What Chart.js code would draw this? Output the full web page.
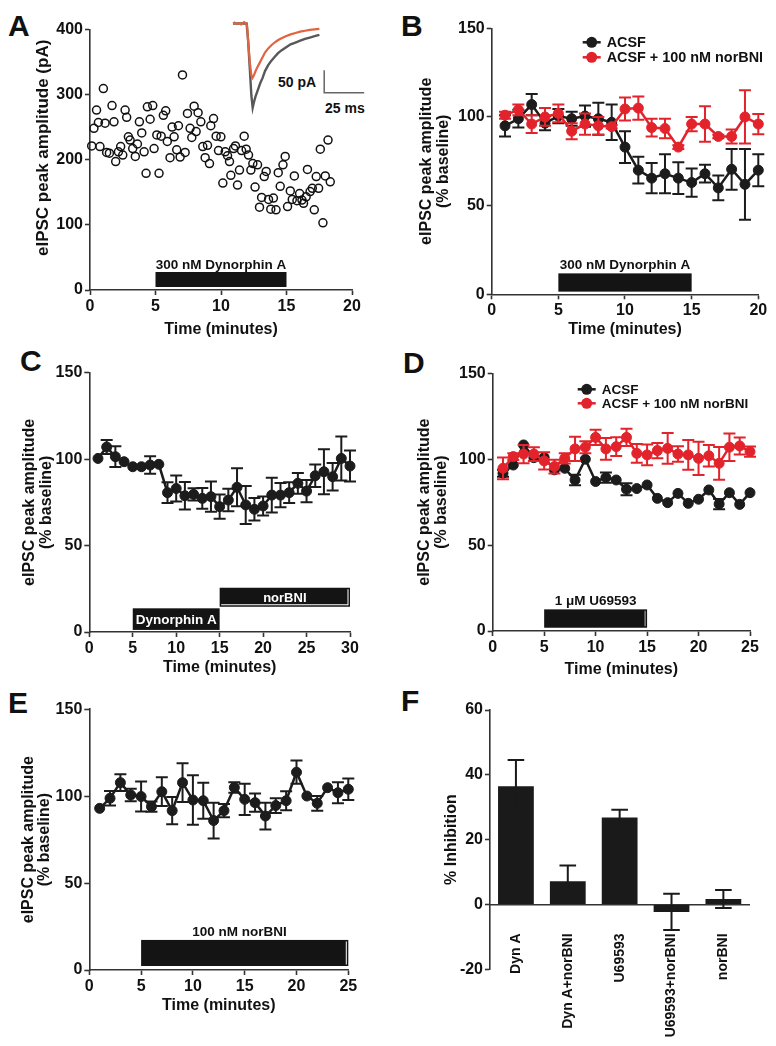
<!DOCTYPE html>
<html><head><meta charset="utf-8">
<script src="https://cdn.jsdelivr.net/npm/chart.js@4.4.1/dist/chart.umd.min.js"></script>
<style>
html,body{margin:0;padding:0;background:#fff;}
body{width:776px;height:1046px;position:relative;overflow:hidden;font-family:"Liberation Sans",Arial,sans-serif;}
canvas{position:absolute;}
.t{position:absolute;font-weight:bold;color:#111;white-space:nowrap;line-height:1;}
.letter{font-size:30px;}
.sb{font-size:14px;}
</style></head><body>
<div class="t letter" style="left:8px;top:11px">A</div>
<div class="t letter" style="left:401px;top:11px">B</div>
<div class="t letter" style="left:20px;top:346px">C</div>
<div class="t letter" style="left:403px;top:348px">D</div>
<div class="t letter" style="left:8px;top:688px">E</div>
<div class="t letter" style="left:401px;top:686px">F</div>
<div class="t sb" style="left:278px;top:75px">50 pA</div>
<div class="t sb" style="left:325px;top:101px">25 ms</div>
<script>
// ---------------- DATA ----------------
// Panel A: single-cell eIPSC amplitudes
const aTime = [0.13,0.3,0.5,0.64,0.76,1.02,1.15,1.27,1.48,1.68,1.83,1.96,2.17,2.34,2.5,2.68,2.8,2.93,3.06,3.26,3.46,3.62,3.77,3.95,4.13,4.28,4.38,4.59,4.79,4.89,5.1,5.27,5.43,5.6,5.78,5.9,6.11,6.27,6.42,6.62,6.75,6.88,7.06,7.26,7.44,7.64,7.77,7.95,8.1,8.25,8.46,8.61,8.79,8.97,9.12,9.22,9.43,9.63,9.81,9.99,10.14,10.32,10.5,10.65,10.75,10.96,11.1,11.26,11.41,11.57,11.77,11.92,12.1,12.28,12.43,12.6,12.79,12.94,13.1,13.3,13.45,13.63,13.8,14.0,14.2,14.37,14.52,14.73,14.9,15.08,15.29,15.44,15.6,15.8,16.0,16.18,16.3,16.5,16.6,16.8,16.97,17.12,17.27,17.45,17.58,17.78,17.96,18.17,18.34];
const aAmp = [221,248,276,257,220,309,256,211,210,283,258,197,212,220,207,276,265,235,230,217,205,224,258,241,212,179,281,262,283,217,238,179,236,268,275,228,203,250,235,215,252,204,330,211,271,248,234,282,243,272,258,220,203,222,194,252,263,236,214,235,164,212,206,197,176,217,221,161,184,214,236,216,207,184,194,158,192,127,142,174,182,139,124,141,123,180,159,192,205,128,152,139,175,137,148,138,133,143,185,151,156,123,174,156,216,103,175,230,166];
const aXTicks = [0,5,10,15,20];
const aYTicks = [0,100,200,300,400];
const aDrugStart = [5], aDrugEnd = [15], aDrugLabel = ['300 nM Dynorphin A'];
// Inset traces (ms, pA)
const traceGrayT = [0,8.5,9.5,10.5,11.5,12.3,13,14,15,16,17,18.5,20,22,24,26,28,30,33,36,39,42,45,48,51,54];
const traceGrayI = [0,0,-40,-100,-160,-186,-175,-162,-152,-142,-132,-120,-105,-92,-82,-74,-66,-60,-53,-46,-42,-38,-34,-31,-28,-25];
const traceOrT = [0,1,2,3,4,5,6,7,8,8.8,9.5,10.5,11.5,12.2,13,14,15,16.5,18,20,22,24,26,28,30,33,36,39,42,45,48,51,54];
const traceOrI = [0,2,-1,1,0,-2,1,3,0,-5,-40,-85,-115,-120,-115,-106,-98,-88,-78,-64,-55,-48,-42,-37,-33,-28,-24,-21,-18,-16,-14,-13,-12];
const scaleBarT = [57,57,82];
const scaleBarI = [-103,-153,-153];

// Panel B
const bTime = [1,2,3,4,5,6,7,8,9,10,11,12,13,14,15,16,17,18,19,20];
const bAcsf = [95,99,107,96.5,100.5,99,100.5,99,97,83,70,65.5,68,65.5,63,68,60,70.5,62,70];
const bAcsfErr = [6,5,6,4,4,4,6,9,10,9,7.5,8.5,11,9,8,5,7,11.5,20,9];
const bNor = [101,104,96,100,102,92,96,95,94.5,104.5,105,94,93.5,83,96,96,89,89,100,96];
const bNorErr = [2,3,5,5,5,4.5,6,5,1,6.5,6.5,5,5.5,1,4,10,1,4,15,5.7];
const bXTicks = [0,5,10,15,20];
const pctYTicks = [0,50,100,150];
const bDrugStart = [5], bDrugEnd = [15], bDrugLabel = ['300 nM Dynorphin A'];

// Panel C
const cTime = [1,2,3,4,5,6,7,8,9,10,11,12,13,14,15,16,17,18,19,20,21,22,23,24,25,26,27,28,29,30];
const cVal = [100.4,107,101.4,98.5,95.6,95.6,96.6,97,80.6,83,78.8,79.6,77.3,78.3,72.5,76.3,83.7,73.5,71,72.9,79.2,79.2,80.6,86,81.5,90.4,92.7,89.8,100.4,96];
const cErr = [0,4,6,0,0,0,5,0,6,7.5,8,3.5,6,8.7,7,6.5,11,11,6.5,5.5,10,7,6,6,6.5,6.5,13,8,12.7,9];
const cXTicks = [0,5,10,15,20,25,30];
const cDrugStart = [5,15], cDrugEnd = [15,30], cDrugLabel = ['Dynorphin A','norBNI'];

// Panel D
const dTime = [1,2,3,4,5,6,7,8,9,10,11,12,13,14,15,16,17,18,19,20,21,22,23,24,25];
const dAcsf = [91.8,96.6,108.3,100.9,101,93.8,94.7,87.9,100,87,89.3,87.9,82.5,82.9,85,77.2,74.7,80.1,74.3,76.7,82.1,73.9,80.5,73.7,80.5];
const dAcsfErr = [2,0,0,0,0,0,0,3,0,0,3,0,3.5,0,0,0,0,0,0,0,0,3,0,0,0];
const dNor = [94.7,101.5,103,103,99,95.7,100.5,106,107,112.7,106,107.3,112.7,103.4,102.5,105,106.3,103,102.5,100.5,102,97.6,107,107.7,104.4];
const dNorErr = [6.3,2,5.3,4,5,4,3,7,3.5,4.5,6.3,5.5,5,5.5,6,4.5,9,4.5,8.7,9.7,6.3,9.5,8,5,3];
const dXTicks = [0,5,10,15,20,25];
const dDrugStart = [5], dDrugEnd = [15], dDrugLabel = ['1 \u03BCM U69593'];

// Panel E
const eTime = [1,2,3,4,5,6,7,8,9,10,11,12,13,14,15,16,17,18,19,20,21,22,23,24,25];
const eVal = [93,98.8,107.8,100.7,99.8,94,102.6,91.7,107.8,97.8,97.4,86,91.7,105,98.2,96.3,88.6,94.6,97.4,113.8,100.1,95.9,104.9,102,104];
const eErr = [0,4.2,4.8,3.6,8.6,3,8.3,7.9,11.2,14.2,10.4,10.3,3.8,3,9,5.3,7.7,4.2,5.5,6.7,0,4.2,0,6,6.2];
const eXTicks = [0,5,10,15,20,25];
const eDrugStart = [5], eDrugEnd = [25], eDrugLabel = ['100 nM norBNI'];

// Panel F
const fCats = ['Dyn A','Dyn A+norBNI','U69593','U69593+norBNI','norBNI'];
const fVal = [36.5,7.2,26.8,-2.3,1.7];
const fErr = [8.1,4.8,2.4,5.6,2.8];
const fYTicks = [-20,0,20,40,60];

// ---------------- RENDERING ----------------
const FONT = '"Liberation Sans", Arial, sans-serif';
const AX = '#333';
const RED = '#e3232b';
const BLK = '#1c1c1c';
Chart.defaults.font.family = FONT;
Chart.defaults.color = '#111';

function pts(xs, ys) { return xs.map((x, i) => ({x: x, y: ys[i]})); }

function drawErrors(chart, ds, meta) {
  const ctx = chart.ctx, ys = chart.scales.y;
  ctx.save();
  ctx.strokeStyle = ds.errColor || ds.borderColor;
  ctx.lineWidth = ds.errWidth || 2;
  const cap = ds.errCap || 6;
  meta.data.forEach((el, i) => {
    const e = ds.err[i]; if (!e) return;
    const raw = ds.data[i];
    const v = (typeof raw === 'object') ? raw.y : raw;
    const yt = ys.getPixelForValue(v + e), yb = ys.getPixelForValue(v - e);
    ctx.beginPath();
    ctx.moveTo(el.x, yt); ctx.lineTo(el.x, yb);
    ctx.moveTo(el.x - cap, yt); ctx.lineTo(el.x + cap, yt);
    ctx.moveTo(el.x - cap, yb); ctx.lineTo(el.x + cap, yb);
    ctx.stroke();
  });
  ctx.restore();
}

function makeExtras(cfg) {
  return {
    id: 'extras',
    beforeDatasetDraw(chart, args) {
      const ds = chart.data.datasets[args.index];
      if (ds.err && !ds.errAfter) drawErrors(chart, ds, args.meta);
    },
    afterDatasetDraw(chart, args) {
      const ds = chart.data.datasets[args.index];
      if (ds.err && ds.errAfter) drawErrors(chart, ds, args.meta);
    },
    afterDraw(chart) {
      const ctx = chart.ctx, xs = chart.scales.x, ys = chart.scales.y;
      (cfg.drugs || []).forEach(d => {
        const x0 = xs.getPixelForValue(d.start), x1 = xs.getPixelForValue(d.end);
        const y0 = ys.getPixelForValue(d.top), y1 = ys.getPixelForValue(d.bottom);
        ctx.save();
        ctx.fillStyle = '#141414';
        ctx.fillRect(x0, y0, x1 - x0, y1 - y0);
        if (d.inner) {
          ctx.strokeStyle = d.innerColor || '#fff'; ctx.lineWidth = 1;
          ctx.beginPath();
          if (d.inner.indexOf('r') >= 0) { ctx.moveTo(x1 - 2, y0 + 1.5); ctx.lineTo(x1 - 2, y1 - 1.5); }
          if (d.inner.indexOf('b') >= 0) { ctx.moveTo(x0 + 1.5, y1 - 2); ctx.lineTo(x1 - 2, y1 - 2); }
          ctx.stroke();
        }
        ctx.font = 'bold ' + d.size + 'px ' + FONT;
        ctx.fillStyle = d.inside ? '#fff' : '#111';
        ctx.textAlign = 'center'; ctx.textBaseline = 'middle';
        const lx = xs.getPixelForValue(d.labelAt != null ? d.labelAt : (d.start + d.end) / 2);
        const ly = d.inside ? (y0 + y1) / 2 + 1 : y0 - d.gap;
        ctx.fillText(d.label, lx, ly);
        ctx.restore();
      });
      const L = cfg.legend;
      if (L) {
        L.items.forEach((idx, k) => {
          const ds = chart.data.datasets[idx];
          const cy = L.y + k * L.gap;
          ctx.save();
          ctx.strokeStyle = ds.borderColor; ctx.lineWidth = 2.5;
          ctx.beginPath(); ctx.moveTo(L.x - 9, cy); ctx.lineTo(L.x + 9, cy); ctx.stroke();
          ctx.fillStyle = ds.backgroundColor;
          ctx.beginPath(); ctx.arc(L.x, cy, 5.5, 0, 2 * Math.PI); ctx.fill();
          ctx.fillStyle = '#111'; ctx.font = 'bold ' + L.size + 'px ' + FONT;
          ctx.textAlign = 'left'; ctx.textBaseline = 'middle';
          ctx.fillText(ds.label, L.x + L.dx, cy + 1);
          ctx.restore();
        });
      }
    }
  };
}

function axis(o) {
  return {
    type: 'linear', min: o.min, max: o.max, position: o.pos,
    afterFit: s => { if (o.pos === 'left') s.width = o.size; else s.height = o.size; },
    afterBuildTicks: s => { s.ticks = o.ticks.map(v => ({value: v})); },
    border: {display: true, color: AX, width: 1.6},
    grid: {display: true, drawOnChartArea: false, drawTicks: true, tickLength: 5, tickWidth: 1.6, tickColor: AX, color: AX},
    ticks: {color: '#111', font: {family: FONT, size: 16, weight: 'bold'}, padding: o.tickPad, autoSkip: false, maxRotation: 0},
    title: {display: true, text: o.title, color: '#111',
      font: {family: FONT, size: o.tsize, weight: 'bold', lineHeight: o.lh},
      padding: o.pos === 'left' ? {top: o.tpad, bottom: 0} : {top: 0, bottom: o.tpad}}
  };
}

function addCanvas(L, T, W, H) {
  const c = document.createElement('canvas');
  c.width = W; c.height = H;
  c.style.left = L + 'px'; c.style.top = T + 'px';
  c.style.width = W + 'px'; c.style.height = H + 'px';
  document.body.appendChild(c);
  return c;
}

function drugList(starts, ends, labels, extra) {
  return starts.map((s, i) => Object.assign({start: s, end: ends[i], label: labels[i]}, extra[i]));
}

function linePanel(g, datasets, xTicks, yTicks, extrasCfg) {
  const c = addCanvas(g.L, g.T, g.W, g.H);
  const yW = g.x0 - g.L, padTop = g.y0 - g.T, padRight = g.L + g.W - g.x1, xH = g.T + g.H - g.y1;
  const yLh = g.ytSize * g.ylh;
  const yPad = (g.ytCx - g.L) - yLh / 2;
  const xPad = (g.T + g.H) - g.xtCy - 16 * 1.2 / 2;
  new Chart(c, {
    type: 'scatter',
    data: {datasets: datasets},
    options: {
      responsive: false, animation: false, devicePixelRatio: 1, events: [],
      layout: {padding: {left: 0, top: padTop, right: padRight, bottom: 0}},
      plugins: {legend: {display: false}, tooltip: {enabled: false}},
      scales: {
        x: axis({min: xTicks[0], max: xTicks[xTicks.length - 1], pos: 'bottom', size: xH, ticks: xTicks, tickPad: 2,
          title: 'Time (minutes)', tsize: 16, lh: 1.2, tpad: xPad}),
        y: axis({min: yTicks[0], max: yTicks[yTicks.length - 1], pos: 'left', size: yW, ticks: yTicks, tickPad: 2,
          title: g.yTitle, tsize: g.ytSize, lh: g.ylh, tpad: yPad})
      }
    },
    plugins: [makeExtras(extrasCfg)]
  });
}

function series(label, xs, ys, err, color, order) {
  return {label: label, data: pts(xs, ys), err: err, showLine: true, borderColor: color, backgroundColor: color,
    borderWidth: 2.5, pointRadius: 5, pointBorderWidth: 1, pointBorderColor: color, pointBackgroundColor: color,
    errColor: color, errWidth: 2, errCap: 6, clip: false, order: order};
}

const PCT_TITLE = ['eIPSC peak amplitude', '(% baseline)'];

// Panel A
linePanel({L: 0, T: 0, W: 380, H: 345, x0: 90, y0: 29.3, x1: 352, y1: 290, yTitle: '     eIPSC peak amplitude (pA)',
  ytSize: 17, ylh: 1.2, ytCx: 43.5, xtCy: 330},
  [{label: 'eIPSC', data: pts(aTime, aAmp), showLine: false, pointRadius: 4, pointBorderWidth: 1.5,
    pointBorderColor: '#111', pointBackgroundColor: 'rgba(0,0,0,0)', borderColor: '#111', clip: false}],
  aXTicks, aYTicks,
  {drugs: drugList(aDrugStart, aDrugEnd, aDrugLabel, [{top: 27.6, bottom: 4.6, size: 13.5, gap: 7}])});

// Inset traces for A
(function () {
  const c = addCanvas(225, 15, 150, 100);
  new Chart(c, {
    type: 'scatter',
    data: {datasets: [
      {data: pts(traceOrT, traceOrI), showLine: true, borderColor: '#e0643f', borderWidth: 2.2, pointRadius: 0, order: 0},
      {data: pts(traceGrayT, traceGrayI), showLine: true, borderColor: '#58585a', borderWidth: 2.4, pointRadius: 0, order: 1},
      {data: pts(scaleBarT, scaleBarI), showLine: true, borderColor: '#666', borderWidth: 1.5, pointRadius: 0, order: 2}
    ]},
    options: {
      responsive: false, animation: false, devicePixelRatio: 1, events: [],
      layout: {padding: 0},
      plugins: {legend: {display: false}, tooltip: {enabled: false}},
      scales: {x: {type: 'linear', display: false, min: -5, max: 88.75}, y: {type: 'linear', display: false, min: -202, max: 18.8}}
    }
  });
})();

// Panel B
linePanel({L: 380, T: 0, W: 396, H: 345, x0: 491.7, y0: 28.3, x1: 758.3, y1: 294.3, yTitle: PCT_TITLE,
  ytSize: 16, ylh: 1.04, ytCx: 426.7, xtCy: 330},
  [series('ACSF', bTime, bAcsf, bAcsfErr, BLK, 1), series('ACSF + 100 nM norBNI', bTime, bNor, bNorErr, RED, 0)],
  bXTicks, pctYTicks,
  {drugs: drugList(bDrugStart, bDrugEnd, bDrugLabel, [{top: 11.8, bottom: 1.5, size: 13.5, gap: 8}]),
   legend: {x: 211.7, y: 42.3, gap: 15, size: 14.4, dx: 15, items: [0, 1]}});

// Panel C
linePanel({L: 0, T: 345, W: 380, H: 340, x0: 89.3, y0: 372.7, x1: 350, y1: 632, yTitle: PCT_TITLE,
  ytSize: 16, ylh: 1.04, ytCx: 30, xtCy: 668},
  [series('Dynorphin A then norBNI', cTime, cVal, cErr, BLK, 0)],
  cXTicks, pctYTicks,
  {drugs: drugList(cDrugStart, cDrugEnd, cDrugLabel, [
    {top: 13.7, bottom: 1.2, size: 13.5, inside: true},
    {top: 25.6, bottom: 14.6, size: 13, inside: true, inner: 'rb', labelAt: 22.5}])});

// Panel D
linePanel({L: 380, T: 345, W: 396, H: 340, x0: 492.7, y0: 373.3, x1: 750, y1: 631, yTitle: PCT_TITLE,
  ytSize: 16, ylh: 1.04, ytCx: 425, xtCy: 669.7},
  [series('ACSF', dTime, dAcsf, dAcsfErr, BLK, 1), series('ACSF + 100 nM norBNI', dTime, dNor, dNorErr, RED, 0)],
  dXTicks, pctYTicks,
  {drugs: drugList(dDrugStart, dDrugEnd, dDrugLabel, [{top: 12.6, bottom: 1.9, size: 13.5, gap: 8, inner: 'r', innerColor: '#bbb'}]),
   legend: {x: 206.7, y: 44.3, gap: 14, size: 13.5, dx: 15, items: [0, 1]}});

// Panel E
linePanel({L: 0, T: 685, W: 380, H: 361, x0: 89.3, y0: 709.3, x1: 348.3, y1: 970, yTitle: PCT_TITLE,
  ytSize: 16, ylh: 1.04, ytCx: 28.3, xtCy: 1005.5},
  [series('norBNI', eTime, eVal, eErr, BLK, 0)],
  eXTicks, pctYTicks,
  {drugs: drugList(eDrugStart, eDrugEnd, eDrugLabel, [{top: 17.3, bottom: 2.3, size: 13.5, gap: 8, inner: 'r', labelAt: 14.5}])});

// Panel F
(function () {
  const L = 380, T = 685, W = 396, H = 361, x0 = 490, y0 = 710, x1 = 749.3, y1 = 969.3;
  const c = addCanvas(L, T, W, H);
  const yAx = axis({min: fYTicks[0], max: fYTicks[fYTicks.length - 1], pos: 'left', size: x0 - L, ticks: fYTicks, tickPad: 2,
    title: '% Inhibition', tsize: 16, lh: 1.2, tpad: (451.7 - L) - 9.6});
  new Chart(c, {
    type: 'bar',
    data: {labels: fCats, datasets: [{data: fVal, err: fErr, errAfter: true, backgroundColor: '#1a1a1a', borderWidth: 0,
      barPercentage: 0.69, categoryPercentage: 1, errColor: '#1a1a1a', errWidth: 2, errCap: 8.3, clip: false}]},
    options: {
      responsive: false, animation: false, devicePixelRatio: 1, events: [],
      layout: {padding: {left: 0, top: y0 - T, right: L + W - x1, bottom: T + H - y1}},
      plugins: {legend: {display: false}, tooltip: {enabled: false}},
      scales: {
        x: {type: 'category', position: {y: 0},
          border: {display: true, color: AX, width: 1.6},
          grid: {display: false, drawTicks: false},
          ticks: {minRotation: 90, maxRotation: 90, autoSkip: false, padding: 29, color: '#111',
            font: {family: FONT, size: 14, weight: 'bold'}}},
        y: yAx
      }
    },
    plugins: [makeExtras({})]
  });
})();
</script>
</body></html>
